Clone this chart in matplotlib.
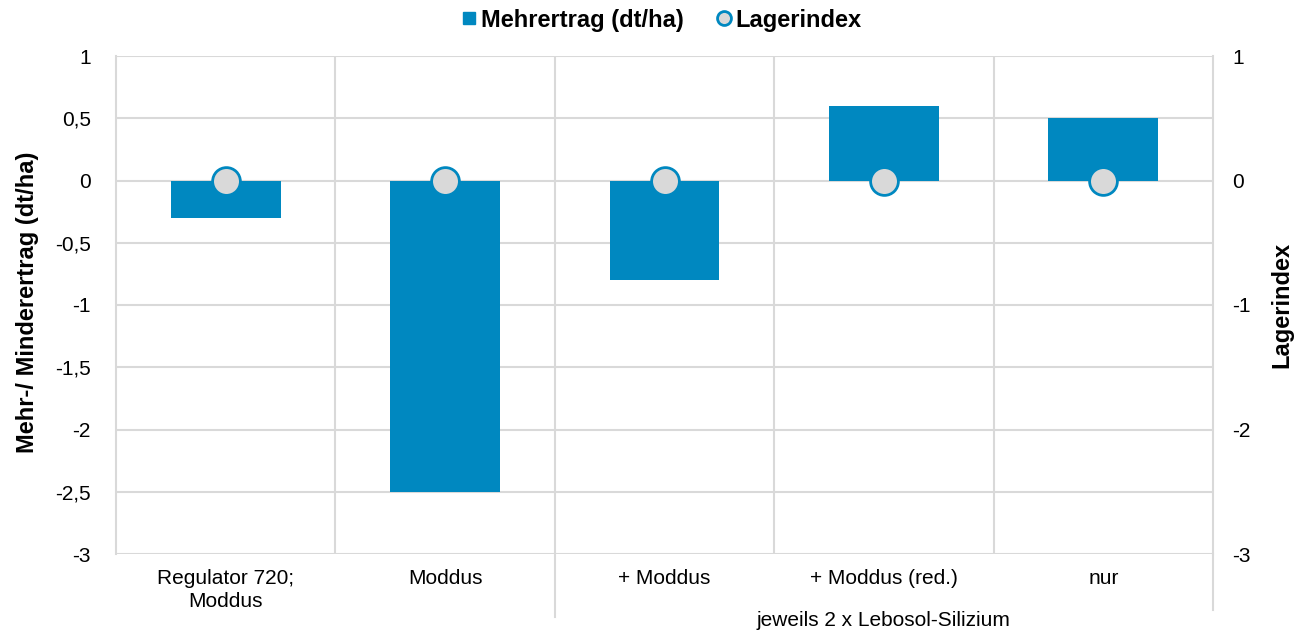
import matplotlib
matplotlib.use("Agg")
import matplotlib.pyplot as plt
from matplotlib.lines import Line2D

plt.rcParams['font.family'] = ['Liberation Sans', 'DejaVu Sans']

categories = ["Regulator 720;\nModdus", "Moddus", "+ Moddus", "+ Moddus (red.)", "nur"]
group_label = "jeweils 2 x Lebosol-Silizium"
mehrertrag = [-0.3, -2.5, -0.8, 0.6, 0.5]
lagerindex = [0, 0, 0, 0, 0]
left_ticks = [1, 0.5, 0, -0.5, -1, -1.5, -2, -2.5, -3]
left_ticklabels = ["1", "0,5", "0", "-0,5", "-1", "-1,5", "-2", "-2,5", "-3"]
right_ticks = [1, 0, -1, -2, -3]
right_ticklabels = ["1", "0", "-1", "-2", "-3"]

bar_color = "#0088C0"
grid_color = "#D9D9D9"
fs = 15
fsb = 17

fig = plt.figure(figsize=(12.98, 6.33), dpi=100)
ax = fig.add_axes([116/1298, 1-554/633, (1213-116)/1298, (554-56)/633])
x = list(range(len(categories)))

ax.set_xlim(-0.5, len(categories)-0.5)
ax.set_ylim(-3, 1)
ax.set_yticks(left_ticks)
ax.set_yticklabels(left_ticklabels, fontsize=fs)
ax.tick_params(axis='y', length=0, pad=18)
ax.set_xticks([])
for v in left_ticks:
    ax.axhline(v, color=grid_color, lw=1.5, zorder=0)
for s in [0.5, 1.5, 2.5, 3.5]:
    ax.axvline(s, color=grid_color, lw=1.5, zorder=0)
for sp in ['top', 'bottom']:
    ax.spines[sp].set_visible(False)
for sp in ['left', 'right']:
    ax.spines[sp].set_color(grid_color)
    ax.spines[sp].set_linewidth(1.5)

ax.bar(x, mehrertrag, width=0.5, color=bar_color, zorder=2)

ax2 = ax.twinx()
ax2.set_ylim(-3, 1)
ax2.set_yticks(right_ticks)
ax2.set_yticklabels(right_ticklabels, fontsize=fs)
ax2.tick_params(axis='y', length=0, pad=14)
for sp in ['top', 'bottom', 'left', 'right']:
    ax2.spines[sp].set_visible(False)
ax2.plot(x, lagerindex, linestyle='none', marker='o', markersize=20,
         markerfacecolor='#D9D9D9', markeredgecolor=bar_color, markeredgewidth=2, zorder=3,
         clip_on=False)

# axis titles
fig.text(28/1298, 1-302/633, "Mehr-/ Minderertrag (dt/ha)", rotation=90,
         ha='center', va='center', fontsize=fsb, fontweight='bold')
fig.text(1282/1298, 1-305/633, "Lagerindex", rotation=90,
         ha='center', va='center', fontsize=fsb, fontweight='bold')

# category labels
trans = ax.get_xaxis_transform()
for xi, lab in zip(x, categories):
    ax.text(xi, -0.030, lab, transform=trans, ha='center', va='top', fontsize=fs,
            linespacing=1.3)
ax.text(3, -0.114, group_label, transform=trans, ha='center', va='top', fontsize=fs)

# group separator lines extending below axis
for s, ybot in [(1.5, -0.127), (4.5, -0.112)]:
    ax.plot([s, s], [0, ybot], transform=trans, color=grid_color, lw=1.5, clip_on=False)

# legend
handles = [Line2D([0], [0], linestyle='none', marker='s', markersize=9,
                  markerfacecolor=bar_color, markeredgecolor=bar_color),
           Line2D([0], [0], linestyle='none', marker='o', markersize=10,
                  markerfacecolor='#D9D9D9', markeredgecolor=bar_color, markeredgewidth=2)]
fig.legend(handles, ["Mehrertrag (dt/ha)", "Lagerindex"], loc='center',
           bbox_to_anchor=(0.508, 1-20/633), ncol=2, frameon=False,
           prop={'weight': 'bold', 'size': fsb}, handletextpad=0.0, columnspacing=1.2,
           handlelength=1.0)

fig.savefig("out.png", dpi=100)
